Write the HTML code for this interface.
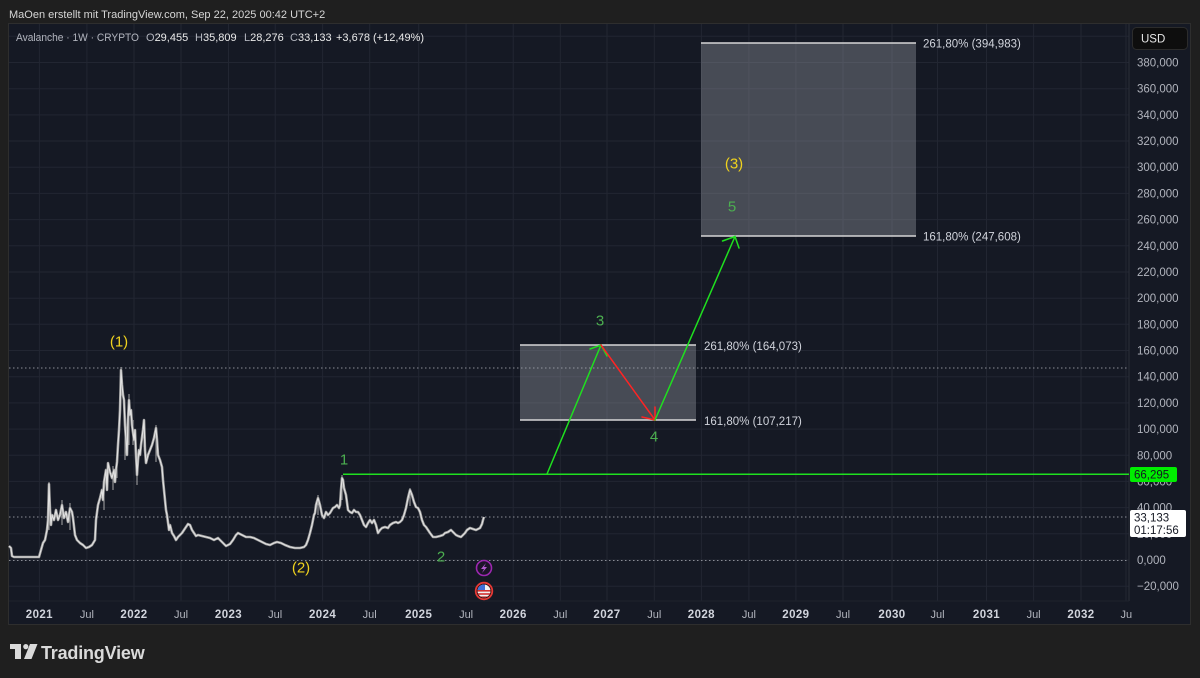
<!DOCTYPE html>
<html><head><meta charset="utf-8"><style>
html,body{margin:0;padding:0;background:#1f1f1f;}
svg{display:block;font-family:"Liberation Sans",Arial,sans-serif;}
</style></head><body>
<svg width="1200" height="678" viewBox="0 0 1200 678" xmlns="http://www.w3.org/2000/svg">
<defs>
<clipPath id="tclip"><rect x="8" y="601" width="1124" height="24"/></clipPath>
<clipPath id="fclip"><circle cx="484" cy="591" r="6.5"/></clipPath>
</defs>
<rect x="0" y="0" width="1200" height="678" fill="#1f1f1f"/>
<text x="9" y="18" font-size="11" fill="#d6d6d6">MaOen erstellt mit TradingView.com, Sep 22, 2025 00:42 UTC+2</text>
<rect x="8.5" y="23.5" width="1182" height="601" fill="#151924" stroke="#2e2e2e" stroke-width="1"/>
<!-- horizontal grid -->
<g stroke="#222632" stroke-width="1">
<line x1="9" x2="1129" y1="586.2" y2="586.2"/><line x1="9" x2="1129" y1="560" y2="560"/>
<line x1="9" x2="1129" y1="533.8" y2="533.8"/><line x1="9" x2="1129" y1="507.6" y2="507.6"/>
<line x1="9" x2="1129" y1="481.4" y2="481.4"/><line x1="9" x2="1129" y1="455.3" y2="455.3"/>
<line x1="9" x2="1129" y1="429.1" y2="429.1"/><line x1="9" x2="1129" y1="402.9" y2="402.9"/>
<line x1="9" x2="1129" y1="376.7" y2="376.7"/><line x1="9" x2="1129" y1="350.5" y2="350.5"/>
<line x1="9" x2="1129" y1="324.3" y2="324.3"/><line x1="9" x2="1129" y1="298.2" y2="298.2"/>
<line x1="9" x2="1129" y1="272" y2="272"/><line x1="9" x2="1129" y1="245.8" y2="245.8"/>
<line x1="9" x2="1129" y1="219.6" y2="219.6"/><line x1="9" x2="1129" y1="193.4" y2="193.4"/>
<line x1="9" x2="1129" y1="167.2" y2="167.2"/><line x1="9" x2="1129" y1="141" y2="141"/>
<line x1="9" x2="1129" y1="114.9" y2="114.9"/><line x1="9" x2="1129" y1="88.7" y2="88.7"/>
<line x1="9" x2="1129" y1="62.5" y2="62.5"/><line x1="9" x2="1129" y1="36.3" y2="36.3"/>
</g>
<!-- vertical grid -->
<g stroke="#222632" stroke-width="1">
<line x1="39.4" x2="39.4" y1="24" y2="601"/><line x1="86.9" x2="86.9" y1="24" y2="601"/>
<line x1="134" x2="134" y1="24" y2="601"/><line x1="181" x2="181" y1="24" y2="601"/>
<line x1="228.5" x2="228.5" y1="24" y2="601"/><line x1="275.2" x2="275.2" y1="24" y2="601"/>
<line x1="322.6" x2="322.6" y1="24" y2="601"/><line x1="369.7" x2="369.7" y1="24" y2="601"/>
<line x1="418.7" x2="418.7" y1="24" y2="601"/><line x1="466.1" x2="466.1" y1="24" y2="601"/>
<line x1="513.2" x2="513.2" y1="24" y2="601"/><line x1="560.3" x2="560.3" y1="24" y2="601"/>
<line x1="607" x2="607" y1="24" y2="601"/><line x1="654.3" x2="654.3" y1="24" y2="601"/>
<line x1="701.4" x2="701.4" y1="24" y2="601"/><line x1="748.9" x2="748.9" y1="24" y2="601"/>
<line x1="795.9" x2="795.9" y1="24" y2="601"/><line x1="843" x2="843" y1="24" y2="601"/>
<line x1="892" x2="892" y1="24" y2="601"/><line x1="937.5" x2="937.5" y1="24" y2="601"/>
<line x1="986.5" x2="986.5" y1="24" y2="601"/><line x1="1033.6" x2="1033.6" y1="24" y2="601"/>
<line x1="1081" x2="1081" y1="24" y2="601"/><line x1="1126" x2="1126" y1="24" y2="601"/>
</g>
<line x1="1129" x2="1129" y1="24" y2="601" stroke="#2a2e39"/>
<line x1="9" x2="1129" y1="601" y2="601" stroke="#1e222d"/>
<!-- dotted lines -->
<g stroke="#8a8d96" stroke-width="1" stroke-dasharray="1.5,2.5">
<line x1="9" x2="1129" y1="368" y2="368"/>
<line x1="9" x2="1129" y1="517" y2="517"/>
<line x1="9" x2="1129" y1="560.5" y2="560.5"/>
</g>
<!-- legend -->
<g font-size="11">
<text x="16" y="41" fill="#b2b5be" textLength="123" lengthAdjust="spacingAndGlyphs">Avalanche · 1W · CRYPTO</text>
<text x="146" y="41" fill="#b2b5be">O<tspan fill="#eaeaea">29,455</tspan></text>
<text x="195" y="41" fill="#b2b5be">H<tspan fill="#eaeaea">35,809</tspan></text>
<text x="244" y="41" fill="#b2b5be">L<tspan fill="#eaeaea">28,276</tspan></text>
<text x="290" y="41" fill="#b2b5be">C<tspan fill="#eaeaea">33,133</tspan></text>
<text x="336" y="41" fill="#eaeaea">+3,678 (+12,49%)</text>
</g>
<!-- y labels -->
<g font-size="11.5" fill="#b2b5be">
<text x="1137" y="66.5">380,000</text><text x="1137" y="92.7">360,000</text>
<text x="1137" y="118.9">340,000</text><text x="1137" y="145">320,000</text>
<text x="1137" y="171.2">300,000</text><text x="1137" y="197.4">280,000</text>
<text x="1137" y="223.6">260,000</text><text x="1137" y="249.8">240,000</text>
<text x="1137" y="276">220,000</text><text x="1137" y="302.2">200,000</text>
<text x="1137" y="328.3">180,000</text><text x="1137" y="354.5">160,000</text>
<text x="1137" y="380.7">140,000</text><text x="1137" y="406.9">120,000</text>
<text x="1137" y="433.1">100,000</text><text x="1137" y="459.3">80,000</text>
<text x="1137" y="485.4">60,000</text><text x="1137" y="511.6">40,000</text>
<text x="1137" y="537.8">20,000</text><text x="1137" y="564">0,000</text>
<text x="1137" y="590.2">−20,000</text>
</g>
<!-- time labels -->
<g clip-path="url(#tclip)" text-anchor="middle">
<g font-size="11.5" font-weight="bold" fill="#d1d4dc" letter-spacing="0.4">
<text x="39.4" y="618">2021</text><text x="134" y="618">2022</text><text x="228.5" y="618">2023</text>
<text x="322.6" y="618">2024</text><text x="418.7" y="618">2025</text><text x="513.2" y="618">2026</text>
<text x="607" y="618">2027</text><text x="701.4" y="618">2028</text><text x="795.9" y="618">2029</text>
<text x="892" y="618">2030</text><text x="986.5" y="618">2031</text><text x="1081" y="618">2032</text>
</g>
<g font-size="11" fill="#b2b5be">
<text x="86.9" y="618">Jul</text><text x="181" y="618">Jul</text><text x="275.2" y="618">Jul</text>
<text x="369.7" y="618">Jul</text><text x="466.1" y="618">Jul</text><text x="560.3" y="618">Jul</text>
<text x="654.3" y="618">Jul</text><text x="748.9" y="618">Jul</text><text x="843" y="618">Jul</text>
<text x="937.5" y="618">Jul</text><text x="1033.6" y="618">Jul</text><text x="1127.5" y="618">Jul</text>
</g>
</g>
<!-- price series -->
<g fill="none" stroke-linejoin="round">
<g stroke="#a8a8a8" stroke-width="1">
<line x1="49" y1="482" x2="49" y2="530"/><line x1="121" y1="367" x2="121" y2="402"/>
<line x1="129" y1="394" x2="129" y2="445"/><line x1="144" y1="420" x2="144" y2="447"/>
<line x1="156" y1="425" x2="156" y2="462"/><line x1="104" y1="480" x2="104" y2="510"/>
<line x1="108" y1="462" x2="108" y2="482"/><line x1="342" y1="475" x2="342" y2="500"/>
<line x1="410" y1="488" x2="410" y2="506"/><line x1="125" y1="418" x2="125" y2="460"/>
<line x1="137" y1="455" x2="137" y2="485"/><line x1="133" y1="420" x2="133" y2="445"/>
<line x1="117" y1="455" x2="117" y2="478"/><line x1="113" y1="466" x2="113" y2="490"/>
<line x1="62" y1="500" x2="62" y2="525"/><line x1="70" y1="503" x2="70" y2="530"/>
<line x1="318" y1="495" x2="318" y2="515"/>
</g>
<polyline stroke="#9c9c9c" stroke-width="2.6" points="9,546 11,548 12,556 14,557 20,557 30,557 39,557 41,550 43,543 45,540 47,530 48,520 49,484 50,510 51,525 52,515 54,520 56,510 58,520 60,515 62,505 64,518 66,512 68,522 70,508 72,512 73,518 75,535 77,540 80,543 83,545 86,548 89,547 92,545 95,540 96,520 98,505 100,498 102,490 103,500 104,482 106,470 107,490 108,463 110,472 112,478 114,470 115,482 116,470 117,462 118,445 119,430 120,410 121,370 122,385 123,395 124,400 125,425 126,440 127,455 128,420 129,400 130,415 131,410 132,425 134,440 135,430 136,455 137,475 138,460 139,450 140,455 141,445 143,430 144,420 145,450 146,463 148,455 150,450 152,445 154,438 156,428 157,440 158,455 160,460 162,467 163,480 164,490 165,500 166,510 167,515 169,530 170,525 172,533 174,536 176,540 178,537 180,535 182,533 184,530 186,527 188,524 190,525 192,530 194,533 196,536 198,535 202,536 206,537 210,538 214,540 218,538 222,542 226,546 230,544 233,540 236,535 238,533 242,535 246,537 250,537 254,538 258,540 262,542 266,544 270,545 274,543 277,542 281,543 285,545 290,547 295,548 300,548 304,547 306,545 308,540 310,533 312,525 313,520 314,515 315,513 316,505 318,498 320,505 322,515 324,518 326,512 328,515 330,513 333,508 335,507 337,505 339,508 340,505 341,490 342,478 343,480 344,488 346,495 348,510 350,512 352,513 354,510 356,512 358,512 360,515 362,520 364,525 366,527 368,523 370,520 372,523 374,520 376,525 378,533 380,530 382,528 385,527 388,528 390,525 393,523 396,522 398,523 400,522 402,520 404,515 406,508 408,498 410,490 412,495 414,502 416,507 418,508 420,512 422,520 424,525 426,527 428,530 430,533 433,537 436,537 440,536 443,535 445,533 448,532 451,530 454,533 456,535 458,536 461,537 463,535 465,533 467,530 470,528 473,529 476,530 478,529 480,528 482,524 483,520 484,517"/>
<polyline stroke="#e2e2e2" stroke-width="1.1" points="9,546 11,548 12,556 14,557 20,557 30,557 39,557 41,550 43,543 45,540 47,530 48,520 49,484 50,510 51,525 52,515 54,520 56,510 58,520 60,515 62,505 64,518 66,512 68,522 70,508 72,512 73,518 75,535 77,540 80,543 83,545 86,548 89,547 92,545 95,540 96,520 98,505 100,498 102,490 103,500 104,482 106,470 107,490 108,463 110,472 112,478 114,470 115,482 116,470 117,462 118,445 119,430 120,410 121,370 122,385 123,395 124,400 125,425 126,440 127,455 128,420 129,400 130,415 131,410 132,425 134,440 135,430 136,455 137,475 138,460 139,450 140,455 141,445 143,430 144,420 145,450 146,463 148,455 150,450 152,445 154,438 156,428 157,440 158,455 160,460 162,467 163,480 164,490 165,500 166,510 167,515 169,530 170,525 172,533 174,536 176,540 178,537 180,535 182,533 184,530 186,527 188,524 190,525 192,530 194,533 196,536 198,535 202,536 206,537 210,538 214,540 218,538 222,542 226,546 230,544 233,540 236,535 238,533 242,535 246,537 250,537 254,538 258,540 262,542 266,544 270,545 274,543 277,542 281,543 285,545 290,547 295,548 300,548 304,547 306,545 308,540 310,533 312,525 313,520 314,515 315,513 316,505 318,498 320,505 322,515 324,518 326,512 328,515 330,513 333,508 335,507 337,505 339,508 340,505 341,490 342,478 343,480 344,488 346,495 348,510 350,512 352,513 354,510 356,512 358,512 360,515 362,520 364,525 366,527 368,523 370,520 372,523 374,520 376,525 378,533 380,530 382,528 385,527 388,528 390,525 393,523 396,522 398,523 400,522 402,520 404,515 406,508 408,498 410,490 412,495 414,502 416,507 418,508 420,512 422,520 424,525 426,527 428,530 430,533 433,537 436,537 440,536 443,535 445,533 448,532 451,530 454,533 456,535 458,536 461,537 463,535 465,533 467,530 470,528 473,529 476,530 478,529 480,528 482,524 483,520 484,517"/>
</g>
<!-- boxes -->
<rect x="520" y="345" width="176" height="75" fill="rgba(160,163,172,0.36)"/>
<rect x="701" y="43" width="215" height="193" fill="rgba(160,163,172,0.36)"/>
<g stroke="#d6d6d6" stroke-width="1.5">
<line x1="520" x2="696" y1="345" y2="345"/><line x1="520" x2="696" y1="420" y2="420"/>
<line x1="701" x2="916" y1="43" y2="43"/><line x1="701" x2="916" y1="236" y2="236"/>
</g>
<g font-size="11.5" fill="#d1d4dc">
<text x="704" y="350">261,80% (164,073)</text>
<text x="704" y="425">161,80% (107,217)</text>
<text x="923" y="47.5">261,80% (394,983)</text>
<text x="923" y="240.5">161,80% (247,608)</text>
</g>
<!-- green level line -->
<line x1="343" x2="1129" y1="474.3" y2="474.3" stroke="#1fe01f" stroke-width="1.5"/>
<!-- wave arrows -->
<g fill="none" stroke-width="1.5" stroke-linecap="round">
<polyline stroke="#1fe01f" points="547,474 601,345"/>
<polyline stroke="#1fe01f" points="590,349 601,345 607,356"/>
<polyline stroke="#ff2424" points="601,345 655,420"/>
<polyline stroke="#ff2424" points="642,417 655,420 655,407"/>
<polyline stroke="#1fe01f" points="655,420 735,236.5"/>
<polyline stroke="#1fe01f" points="722.5,241 735,236.5 739,248"/>
</g>
<!-- wave labels -->
<g font-size="15" text-anchor="middle">
<text x="119" y="346.5" fill="#f0d21e">(1)</text>
<text x="301" y="572.5" fill="#f0d21e">(2)</text>
<text x="734" y="168.5" fill="#f0d21e">(3)</text>
<text x="344" y="464.5" fill="#4caf50">1</text>
<text x="441" y="561.5" fill="#4caf50">2</text>
<text x="600" y="325.5" fill="#4caf50">3</text>
<text x="654" y="441.5" fill="#4caf50">4</text>
<text x="732" y="211.5" fill="#4caf50">5</text>
</g>
<!-- icons -->
<circle cx="484" cy="568" r="7.5" fill="#1c1428" stroke="#9c27b0" stroke-width="1.6"/>
<path d="M486,563 L481,569 L484,569 L482,573 L487,567 L484,567 Z" fill="#b45ad0"/>
<circle cx="484" cy="591" r="8.3" fill="#2a0e10" stroke="#e53935" stroke-width="1.8"/>
<g clip-path="url(#fclip)">
<rect x="477" y="584" width="14" height="14" fill="#f0f0f0"/>
<rect x="477" y="590" width="14" height="1.6" fill="#d32f2f"/>
<rect x="477" y="593.2" width="14" height="1.6" fill="#d32f2f"/>
<rect x="477" y="596.4" width="14" height="1.6" fill="#d32f2f"/>
<rect x="477" y="584" width="8" height="6" fill="#3f6fd8"/>
</g>
<!-- price tags -->
<rect x="1130" y="467" width="47" height="15" rx="2" fill="#00ee00"/>
<text x="1134" y="478.5" font-size="11.5" fill="#131722">66,295</text>
<rect x="1130" y="510" width="56" height="27" rx="2" fill="#ffffff"/>
<text x="1134" y="521.5" font-size="11.5" fill="#131722">33,133</text>
<text x="1134" y="534" font-size="11.5" fill="#131722">01:17:56</text>
<!-- USD button -->
<rect x="1132.5" y="27.5" width="55" height="22" rx="4" fill="#0e0e0e" stroke="#2c2c2c"/>
<text x="1141" y="42.5" font-size="11.5" fill="#e6e6e6">USD</text>
<!-- logo -->
<g fill="#dadada">
<rect x="10" y="644" width="11" height="5"/>
<rect x="15" y="644" width="6" height="15"/>
<circle cx="25.8" cy="646.6" r="2.6"/>
<polygon points="30,644 37.5,644 31.5,659 24,659"/>
</g>
<text x="41" y="659" font-size="18" font-weight="bold" fill="#dadada" letter-spacing="-0.2">TradingView</text>
</svg>
</body></html>
